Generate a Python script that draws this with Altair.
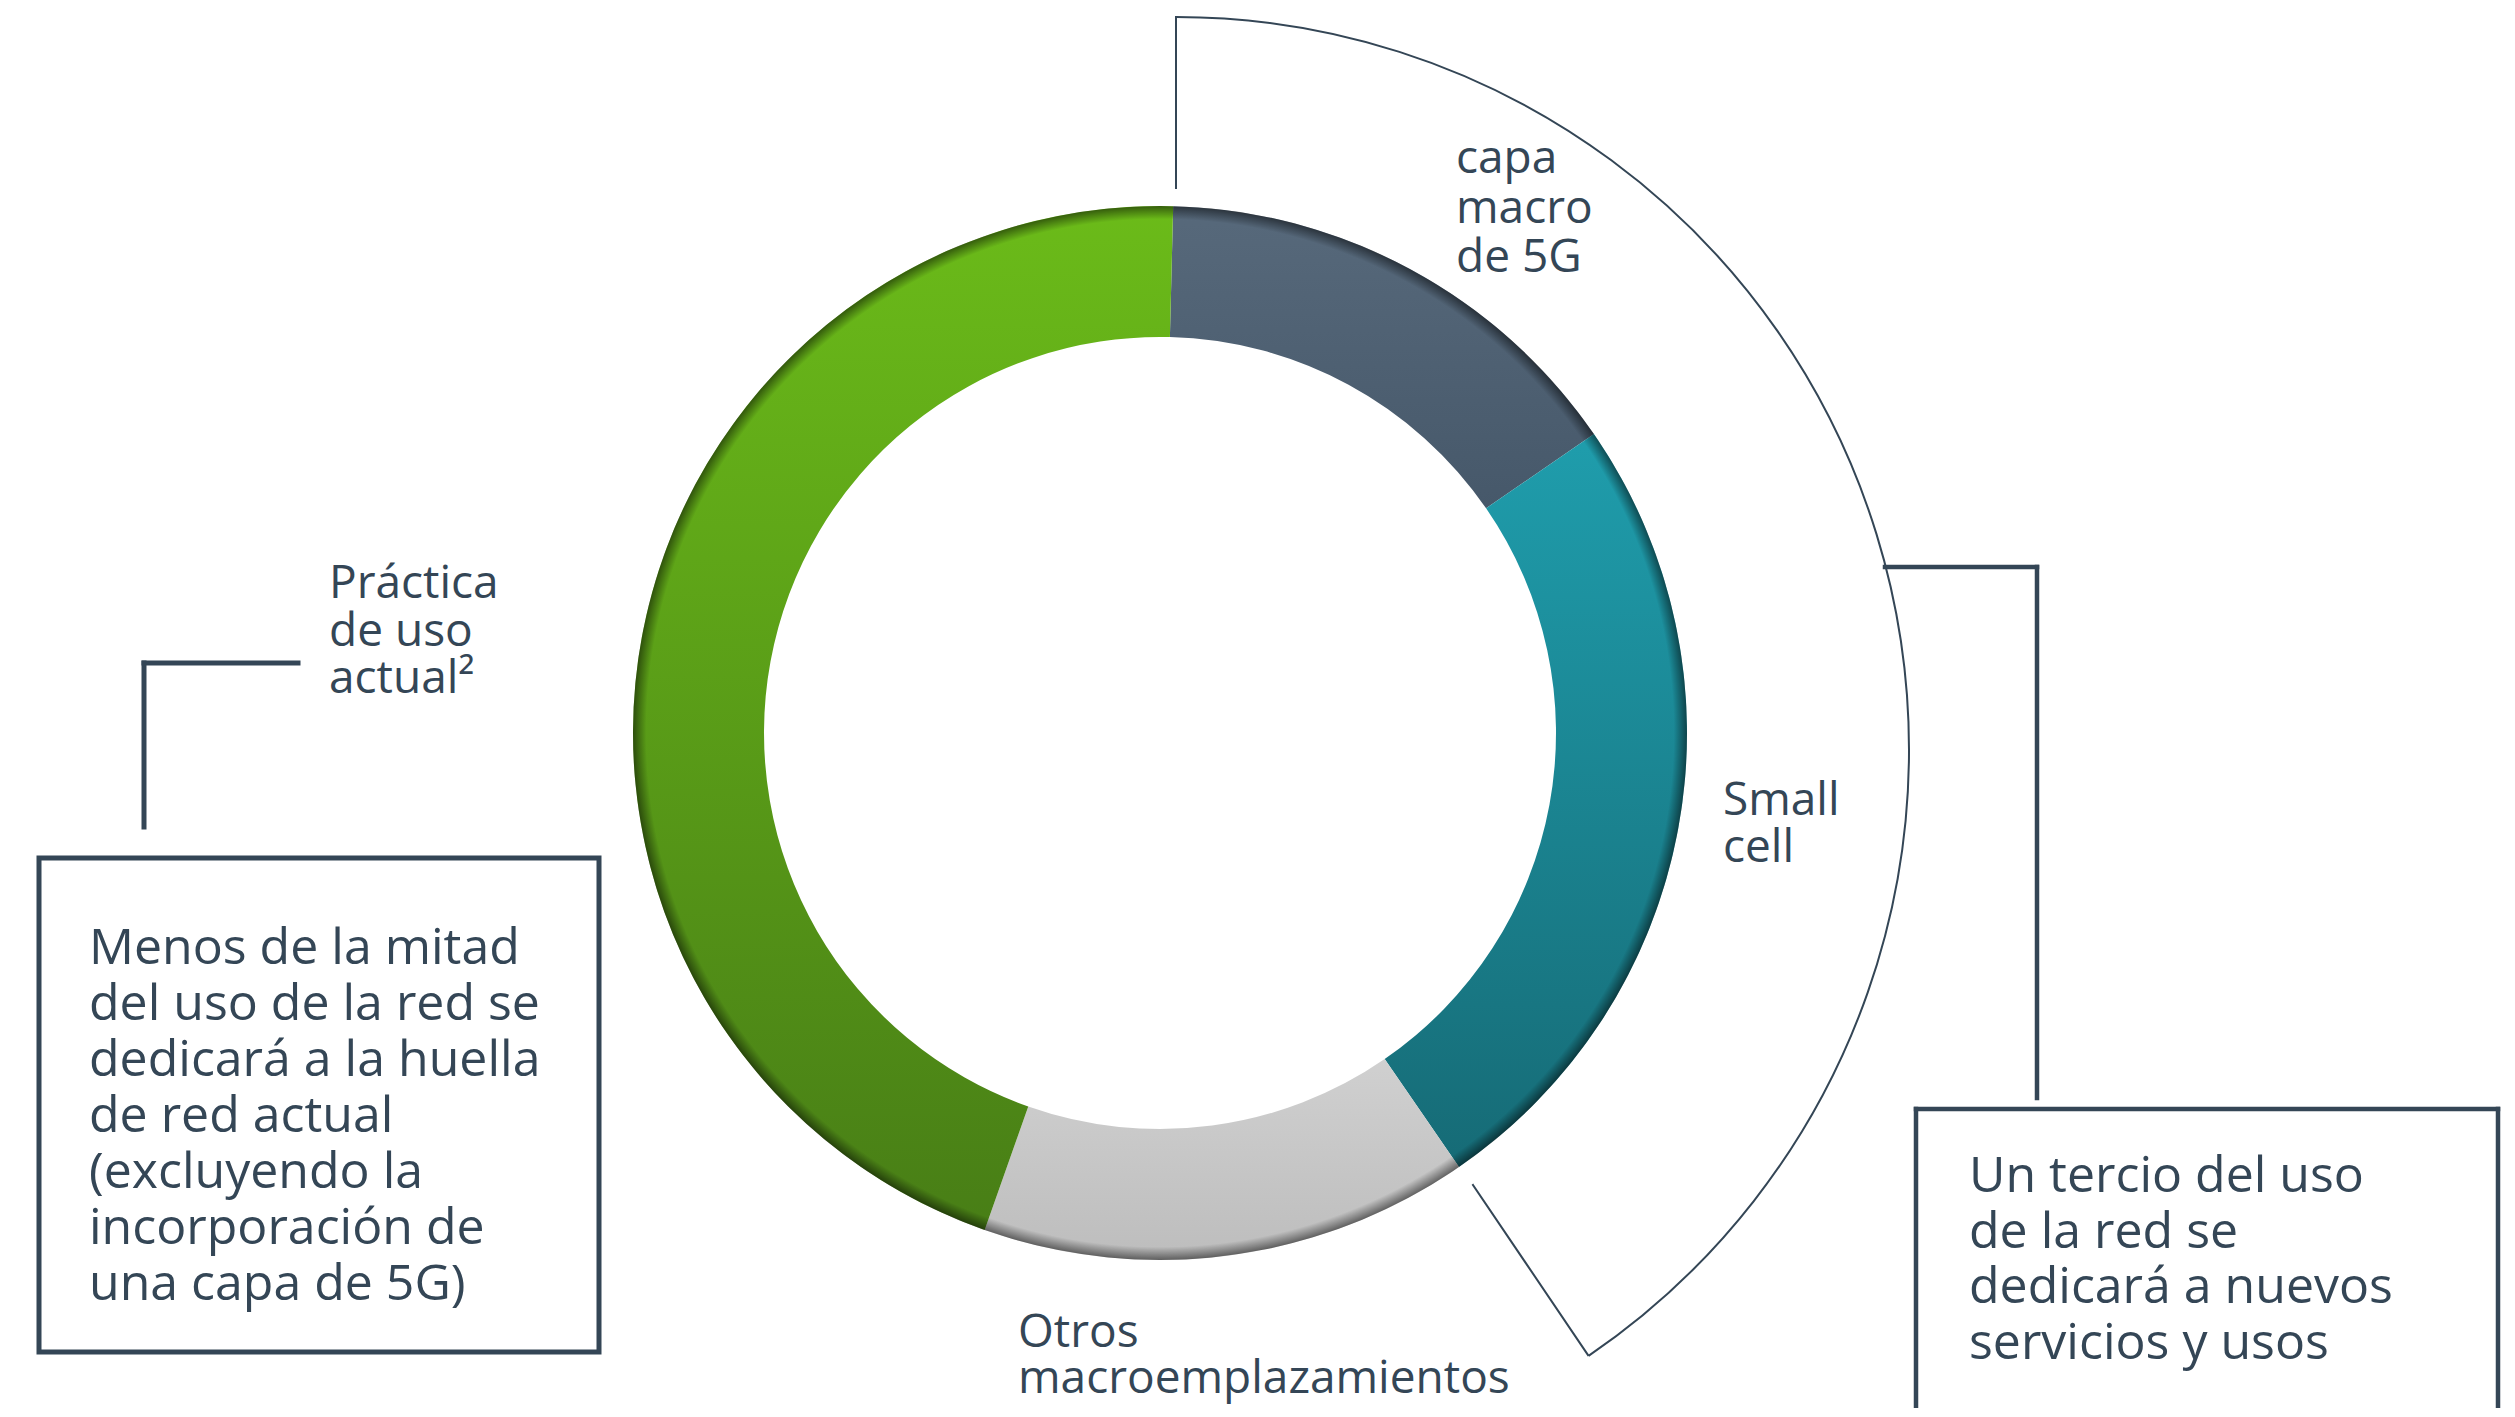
import math
import altair as alt
import pandas as pd

# ---- data ----
categories = ["capa macro de 5G", "Small cell", "Otros macroemplazamientos", "Práctica de uso actual"]
values = [15, 25, 15, 45]
top_colors = ["#57697b", "#1f9dac", "#d0d0d0", "#6bbb19"]
bottom_colors = ["#46586a", "#166b76", "#bdbdbd", "#487e16"]

label_capa = ["capa", "macro", "de 5G"]
label_small = ["Small", "cell"]
label_otros = ["Otros", "macroemplazamientos"]
label_practica = ["Práctica", "de uso", "actual²"]
box_left_text = ["Menos de la mitad", "del uso de la red se", "dedicará a la huella",
                 "de red actual", "(excluyendo la", "incorporación de", "una capa de 5G)"]
box_right_text = ["Un tercio del uso", "de la red se", "dedicará a nuevos", "servicios y usos"]

# ---- layout (pixels inside the view) ----
W, H = 2499, 1400
CX, CY = 1152, 725
R_OUT, R_IN = 527, 396
START = 0.025
INK = "#344656"
FONT = "Open Sans"

df = pd.DataFrame({"category": categories, "value": values, "order": list(range(len(values)))})
one = pd.DataFrame({"k": [0]})

base = (
    alt.Chart(df)
    .transform_window(cum="sum(value)", sort=[alt.SortField("order")], frame=[None, 0])
    .transform_calculate(start="datum.cum - datum.value")
)
theta_scale = alt.Scale(domain=[0, sum(values)], range=[START, START + 2 * math.pi])

layers = []
for cat, c_top, c_bot in zip(categories, top_colors, bottom_colors):
    grad = alt.LinearGradient(
        gradient="linear", x1=0, y1=0, x2=0, y2=1,
        stops=[alt.GradientStop(color=c_top, offset=0), alt.GradientStop(color=c_bot, offset=1)],
    )
    layers.append(
        base.transform_filter(alt.datum.category == cat)
        .mark_arc(innerRadius=R_IN, outerRadius=R_OUT, fill=grad)
        .encode(
            theta=alt.Theta("start:Q", scale=theta_scale, stack=None),
            theta2="cum:Q",
            x=alt.value(CX),
            y=alt.value(CY),
        )
    )

# outer rim shading
rim = alt.RadialGradient(
    gradient="radial", x1=0.5, y1=0.5, r1=0, x2=0.5, y2=0.5, r2=0.5,
    stops=[
        alt.GradientStop(color="rgba(0,0,0,0)", offset=0),
        alt.GradientStop(color="rgba(0,0,0,0)", offset=0.975),
        alt.GradientStop(color="rgba(0,0,0,0.5)", offset=1),
    ],
)
layers.append(
    alt.Chart(one).mark_arc(innerRadius=R_IN, outerRadius=R_OUT, theta=0, theta2=2 * math.pi, fill=rim)
    .encode(x=alt.value(CX), y=alt.value(CY))
)

# bracket arc on the right
layers.append(
    alt.Chart(one).mark_arc(innerRadius=733, outerRadius=733, theta=0, theta2=2.5438,
                            filled=False, stroke=INK, strokeWidth=2)
    .encode(x=alt.value(1168), y=alt.value(742))
)


def rule(x1, y1, x2, y2, w):
    return alt.Chart(one).mark_rule(color=INK, strokeWidth=w, strokeCap="square").encode(
        x=alt.value(x1), y=alt.value(y1), x2=alt.value(x2), y2=alt.value(y2))


layers += [
    rule(1168, 9, 1168, 180, 2),          # top tick of bracket
    rule(1465, 1177, 1580, 1347, 2),      # radial end of bracket
    rule(1877, 559, 2029, 559, 4.5),      # right connector
    rule(2029, 559, 2029, 1090, 4.5),
    rule(290, 655, 136, 655, 5),          # left connector
    rule(136, 655, 136, 819, 5),
    # right box (runs off the bottom)
    rule(1908, 1101, 2490, 1101, 4.5),
    rule(1908, 1101, 1908, 1420, 4.5),
    rule(2490, 1101, 2490, 1420, 4.5),
]

layers.append(
    alt.Chart(one).mark_rect(filled=False, stroke=INK, strokeWidth=5)
    .encode(x=alt.value(31), x2=alt.value(591), y=alt.value(850), y2=alt.value(1344))
)


def label(lines, x, y, size, lh):
    return alt.Chart(one).mark_text(
        align="left", baseline="alphabetic", font=FONT, fontSize=size, lineHeight=lh, color=INK
    ).encode(x=alt.value(x), y=alt.value(y), text=alt.value(lines))


layers += [
    label(label_capa, 1448, 165, 46, 49.5),
    label(label_small, 1715, 807, 46, 47),
    label(label_otros, 1010, 1339, 46, 46),
    label(label_practica, 321, 590, 46, 47.5),
    label(box_left_text, 81, 956, 50, 56),
    label(box_right_text, 1961, 1184, 50, 55.5),
]

chart = (
    alt.layer(*layers)
    .properties(width=W, height=H, padding=0, autosize=alt.AutoSizeParams(type="none"),
                background="white")
    .configure_view(stroke=None)
)

chart.save("out.html", embed_options={"renderer": "svg", "actions": False})
